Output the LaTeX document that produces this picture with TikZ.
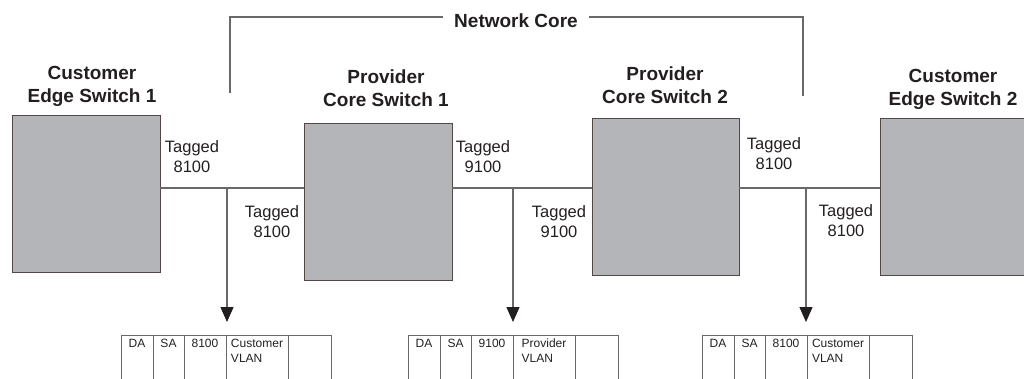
\documentclass[tikz,border=0pt]{standalone}
\usepackage{fontspec}
\setmainfont{Liberation Sans}
\usetikzlibrary{positioning,arrows.meta}

\definecolor{boxgray}{RGB}{180,181,184}
\definecolor{boxedge}{RGB}{85,70,70}
\definecolor{wirecol}{RGB}{105,105,105}
\definecolor{ink}{RGB}{35,31,32}

\tikzset{
	switch/.style={draw=boxedge, fill=boxgray, line width=1, anchor=north west, inner sep=0, outer sep=0},
	title/.style={font=\bfseries\fontsize{19}{23}\selectfont, text=ink, align=center, inner sep=0},
	tag/.style={font=\fontsize{16.5}{20}\selectfont, text=ink, align=center, inner sep=0},
	wire/.style={draw=wirecol, line width=1.2},
	tap/.style={wire, -{Triangle[length=15,width=13,color=ink]}, shorten >=13},
	cell/.style={draw=wirecol, line width=0.9, font=\fontsize{12}{14.5}\selectfont, text=ink,
		text height=8.6, text depth=60, inner xsep=0, inner ysep=4, outer sep=0},
}

\begin{document}
\begin{tikzpicture}[x=1pt,y=-1pt]
	\clip (0,0) rectangle (1024,379);
	% switches
	\node [switch, minimum width=148, minimum height=156] (ce1) at (12,116) {};
	\node [switch, minimum width=148, minimum height=156] (pc1) at (304,124) {};
	\node [switch, minimum width=147, minimum height=156] (pc2) at (592,119) {};
	\node [switch, minimum width=150, minimum height=156] (ce2) at (880,119) {};
	\node [title] (ce1l) at (92,86.5) {Customer\\Edge Switch 1};
	\node [title] (pc1l) at (386,88) {Provider\\Core Switch 1};
	\node [title] (pc2l) at (665,85) {Provider\\Core Switch 2};
	\node [title] (ce2l) at (953,89) {Customer\\Edge Switch 2};
	% network core bracket
	\node [title, inner xsep=11] (core) at (516,21) {Network Core};
	\coordinate (cl) at (230,93);
	\coordinate (cr) at (803,96);
	\draw [wire] ([yshift=4]core.west) -| (cl);
	\draw [wire] ([yshift=4]core.east) -| (cr);
	% links
	\coordinate (b1) at (227,188);
	\coordinate (b2) at (513,188);
	\coordinate (b3) at (806,188);
	\draw [wire] (ce1.east |- b1) -- (pc1.west |- b1);
	\draw [wire] (pc1.east |- b2) -- (pc2.west |- b2);
	\draw [wire] (pc2.east |- b3) -- (ce2.west |- b3);
	\node [tag] (tg1) at (192,157) {Tagged\\8100};
	\node [tag] (tg2) at (272,222) {Tagged\\8100};
	\node [tag] (tg3) at (483,157) {Tagged\\9100};
	\node [tag] (tg4) at (559,222) {Tagged\\9100};
	\node [tag] (tg5) at (774,154) {Tagged\\8100};
	\node [tag] (tg6) at (846,221) {Tagged\\8100};
	% frames
	\foreach \x/\n/\tg/\vl in {121/1/8100/Customer, 408/2/9100/Provider, 702/3/8100/Customer} {
		\node [cell, minimum width=32, anchor=north west] (da\n) at (\x,335) {DA};
		\node [cell, minimum width=31, right=0pt of da\n] (sa\n) {SA};
		\node [cell, minimum width=42, right=0pt of sa\n] (et\n) {\tg};
		\node [cell, minimum width=62, right=0pt of et\n] (vl\n) {\vtop{\hbox{\vl}\hbox{VLAN}}};
		\node [cell, minimum width=43, right=0pt of vl\n] (pl\n) {};
	}
	\draw [tap] (b1) -- (b1 |- vl1.north);
	\draw [tap] (b2) -- (b2 |- vl2.north);
	\draw [tap] (b3) -- (b3 |- vl3.north);
\end{tikzpicture}
\end{document}
